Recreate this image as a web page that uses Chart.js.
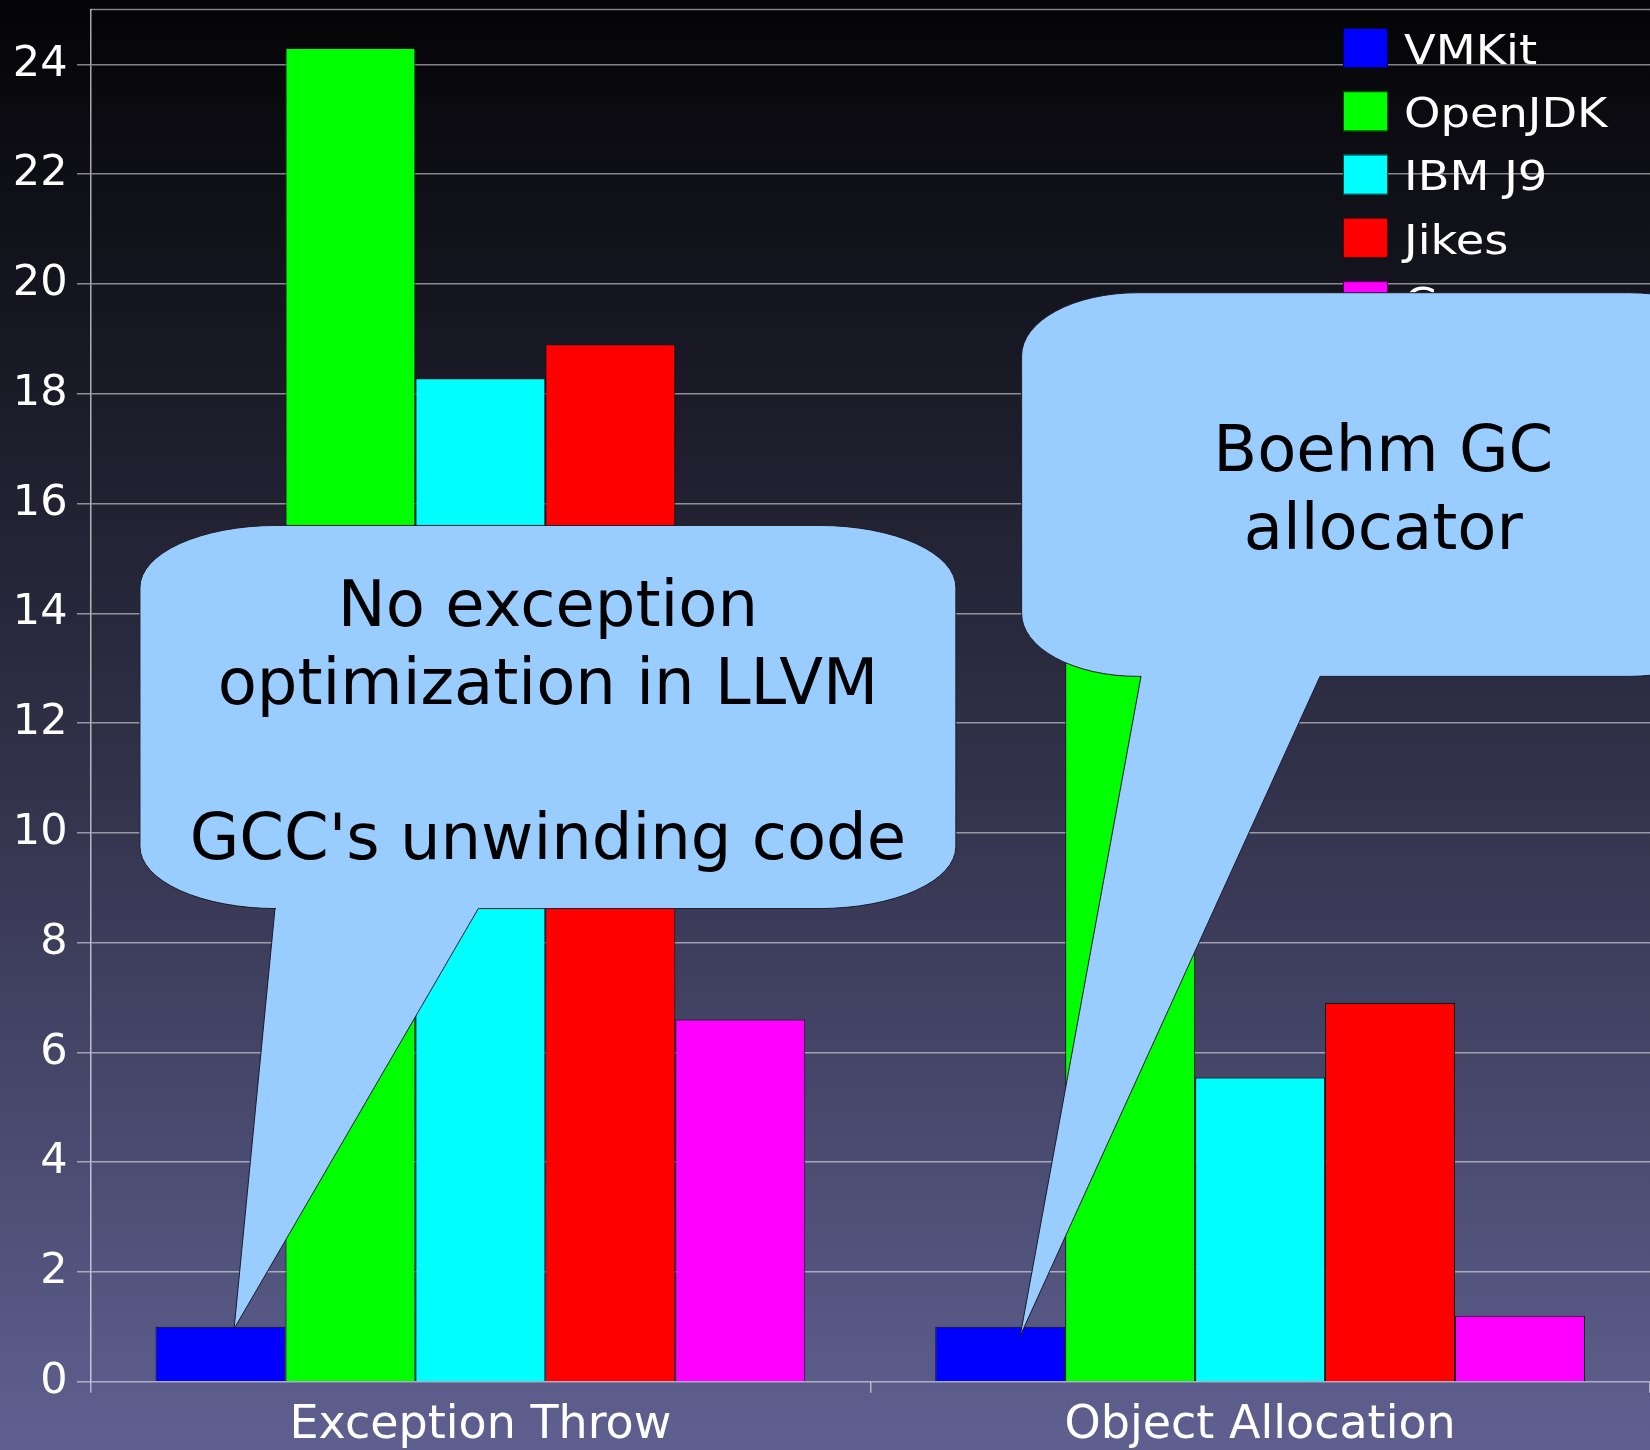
<!DOCTYPE html>
<html>
<head>
<meta charset="utf-8">
<script src="https://cdn.jsdelivr.net/npm/chart.js@4.4.0/dist/chart.umd.min.js"></script>
<style>
  html, body { margin: 0; padding: 0; background: #000; }
  canvas { display: block; }
</style>
</head>
<body>
<canvas id="grafica" width="1650" height="1450"></canvas>
<script>
// Datos
const categorias = ['Exception Throw', 'Object Allocation'];
const nombres = ['VMKit', 'OpenJDK', 'IBM J9', 'Jikes', 'Cacao'];
const vmkit = [1.0, 1.0];
const openjdk = [24.3, 17.0];
const ibmJ9 = [18.28, 5.54];
const jikes = [18.9, 6.9];
const cacao = [6.6, 1.2];
const yMax = 25;
const yPaso = 2;

// Textos de los globos
const nota1 = ['No exception', 'optimization in LLVM', '', "GCC's unwinding code"];
const nota2 = ['Boehm GC', 'allocator'];

const colores = ['#0000ff', '#00ff00', '#00ffff', '#ff0000', '#ff00ff'];
const series = [vmkit, openjdk, ibmJ9, jikes, cacao];
const FUENTE = '"DejaVu Sans", Verdana, sans-serif';

// globos: posiciones en unidades de categoria (x) y de valor (y)
const globos = [
  { texto: nota1, izq: -0.4366, der: 0.6098, arriba: 15.60, abajo: 8.62,
    colaIzq: -0.2634, colaDer: -0.0027, cat: 0, dx: 13.6, dy: 2, rx: 136, ry: 62 },
  { texto: nota2, izq: 0.6941, der: 1.6218, arriba: 19.84, abajo: 12.85,
    colaIzq: 0.8472, colaDer: 1.0768, cat: 1, dx: 20, dy: 9, rx: 116, ry: 63 }
];

const fondo = {
  id: 'fondo',
  beforeDraw(chart) {
    const ctx = chart.ctx;
    const g = ctx.createLinearGradient(0, 0, 0, chart.height);
    g.addColorStop(0, '#040406');
    g.addColorStop(0.5, '#2e2e45');
    g.addColorStop(1, '#5f6090');
    ctx.save();
    ctx.fillStyle = g;
    ctx.fillRect(0, 0, chart.width, chart.height);
    ctx.restore();
  },
  beforeDatasetsDraw(chart) {
    // linea superior del marco
    const ctx = chart.ctx, ca = chart.chartArea;
    ctx.save();
    ctx.strokeStyle = 'rgba(255,255,255,0.5)';
    ctx.lineWidth = 1.5;
    ctx.beginPath();
    ctx.moveTo(ca.left, ca.top);
    ctx.lineTo(ca.right, ca.top);
    ctx.stroke();
    ctx.restore();
  }
};

function dibujarGlobo(chart, g) {
  const ctx = chart.ctx;
  const xs = chart.scales.x, ys = chart.scales.y;
  const x0 = xs.getPixelForValue(0);
  const paso = xs.getPixelForValue(1) - x0;
  const cx = v => x0 + v * paso;
  const L = cx(g.izq), R = cx(g.der);
  const T = ys.getPixelForValue(g.arriba), B = ys.getPixelForValue(g.abajo);
  const barra = chart.getDatasetMeta(0).data[g.cat];
  const px = barra.x + g.dx, py = barra.y + g.dy;
  const rx = g.rx, ry = g.ry;

  ctx.save();
  ctx.beginPath();
  ctx.ellipse(L + rx, T + ry, rx, ry, 0, Math.PI, Math.PI * 1.5);
  ctx.lineTo(R - rx, T);
  ctx.ellipse(R - rx, T + ry, rx, ry, 0, Math.PI * 1.5, Math.PI * 2);
  ctx.lineTo(R, B - ry);
  ctx.ellipse(R - rx, B - ry, rx, ry, 0, 0, Math.PI * 0.5);
  ctx.lineTo(cx(g.colaDer), B);
  ctx.lineTo(px, py);
  ctx.lineTo(cx(g.colaIzq), B);
  ctx.ellipse(L + rx, B - ry, rx, ry, 0, Math.PI * 0.5, Math.PI);
  ctx.closePath();
  ctx.fillStyle = '#99ccff';
  ctx.fill();
  ctx.strokeStyle = '#1c1c28';
  ctx.lineWidth = 1;
  ctx.stroke();

  ctx.fillStyle = '#000';
  ctx.font = '64px ' + FUENTE;
  ctx.textAlign = 'center';
  ctx.textBaseline = 'alphabetic';
  const centro = (T + B) / 2 + 25.4;
  const n = g.texto.length;
  g.texto.forEach((t, k) => {
    ctx.fillText(t, (L + R) / 2, centro + (k - (n - 1) / 2) * 77.6);
  });
  ctx.restore();
}

const extras = {
  id: 'extras',
  afterDraw(chart) {
    const ctx = chart.ctx, ca = chart.chartArea;
    // leyenda dentro del area (texto algo ensanchado como en la diapositiva)
    const lx = ca.right - 307;
    ctx.save();
    ctx.font = '41px ' + FUENTE;
    ctx.textBaseline = 'alphabetic';
    ctx.textAlign = 'left';
    chart.data.datasets.forEach((ds, i) => {
      const ly = ca.top + 18.5 + i * 63.3;
      ctx.fillStyle = ds.backgroundColor;
      ctx.fillRect(lx, ly, 45, 40);
      ctx.strokeStyle = 'rgba(0,0,0,0.7)';
      ctx.lineWidth = 1;
      ctx.strokeRect(lx + 0.5, ly + 0.5, 44, 39);
      ctx.save();
      ctx.translate(lx + 61, ly + 35.6);
      ctx.scale(1.13, 1);
      ctx.fillStyle = '#fff';
      ctx.fillText(ds.label, 0, 0);
      ctx.restore();
    });
    ctx.restore();

    globos.forEach(g => dibujarGlobo(chart, g));
  }
};

new Chart(document.getElementById('grafica'), {
  type: 'bar',
  data: {
    labels: categorias,
    datasets: nombres.map((nombre, i) => ({
      label: nombre,
      data: series[i],
      backgroundColor: colores[i],
      borderColor: '#111',
      borderWidth: 1,
      barPercentage: 1.0,
      categoryPercentage: 0.8333
    }))
  },
  options: {
    responsive: false,
    animation: false,
    layout: { padding: { left: 3.3, top: 0, right: 0, bottom: -9.3 } },
    plugins: {
      legend: { display: false },
      tooltip: { enabled: false }
    },
    scales: {
      x: {
        ticks: { color: '#fff', font: { family: FUENTE, size: 46, lineHeight: 0.5 }, padding: 21.8 },
        grid: { drawOnChartArea: false, drawTicks: true, tickLength: 11, color: 'rgba(255,255,255,0.55)', lineWidth: 1.5 },
        border: { display: false }
      },
      y: {
        min: 0,
        max: yMax,
        ticks: { stepSize: yPaso, includeBounds: false, color: '#fff', font: { family: FUENTE, size: 43, lineHeight: 0 }, padding: 9.5 },
        grid: { color: 'rgba(255,255,255,0.5)', lineWidth: 1.5, tickLength: 13.5 },
        border: { color: 'rgba(255,255,255,0.65)', width: 1.5 }
      }
    }
  },
  plugins: [fondo, extras]
});
</script>
</body>
</html>
